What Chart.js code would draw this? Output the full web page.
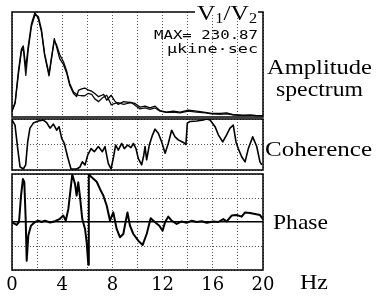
<!DOCTYPE html>
<html>
<head>
<meta charset="utf-8">
<script src="https://cdn.jsdelivr.net/npm/chart.js@4.4.0/dist/chart.umd.min.js"></script>
<style>
  html, body { margin: 0; padding: 0; background: #fff; }
  body { width: 381px; height: 296px; position: relative; overflow: hidden; }
  canvas { position: absolute; left: 0; }
</style>
</head>
<body>
<canvas id="amp" width="381" height="121" style="top:0px"></canvas>
<canvas id="coh" width="381" height="54" style="top:118px"></canvas>
<canvas id="pha" width="381" height="124" style="top:172px"></canvas>
<script>
// frequency axis labels (Hz)
const hzTicks = [0, 4, 8, 12, 16, 20];

// amplitude spectrum, two records (MAX = 230.87)
const ampHz = [0, 0.25, 0.5, 0.75, 0.9, 1.1, 1.3, 1.55, 1.83, 2.1,
  2.35, 2.6, 2.95, 3.15, 3.37, 3.55, 3.8, 4.1, 4.35, 4.6,
  4.9, 5.15, 5.3, 5.55, 5.8, 6.05, 6.35, 6.6, 6.9, 7.15,
  7.3, 7.55, 7.9, 8.2, 8.45, 8.9, 9.2, 9.5, 9.8, 10.2,
  10.6, 11.0, 11.4, 11.8, 12.3, 12.85, 13.4, 14.05, 14.7, 15.4,
  15.9, 16.6, 17.1, 17.6, 18.4, 19.0, 19.5, 20];
const ampV1 = [14, 33, 99, 150, 157, 110, 158, 206, 231, 217,
  188, 136, 91, 129, 173, 155, 129, 116, 98, 70,
  52, 45, 59, 62, 64, 60, 57, 52, 45, 48,
  50, 37, 48, 35, 28, 34, 33, 32, 30, 22,
  24, 20, 24, 14, 11, 13, 11, 15, 13, 10,
  8, 8, 9, 5, 4, 4, 3, 3];
const ampV2 = [12, 30, 92, 145, 152, 92, 150, 200, 226, 222,
  193, 140, 95, 133, 168, 160, 138, 122, 102, 74,
  55, 50, 48, 47, 47, 52, 50, 40, 34, 41,
  44, 48, 27, 30, 32, 28, 30, 32, 26, 18,
  20, 17, 20, 13, 10, 11, 9, 13, 11, 9,
  7, 6, 7, 5, 3, 4, 3, 3];

// coherence
const cohHz = [0, 0.24, 0.45, 0.64, 0.9, 1.09, 1.25, 1.43, 1.7, 2.1,
  2.5, 2.76, 3.03, 3.3, 3.56, 3.75, 3.96, 4.17, 4.43, 4.7,
  5.15, 5.42, 5.6, 5.82, 6.03, 6.3, 6.56, 6.88, 7.2, 7.41,
  7.67, 7.89, 8.07, 8.26, 8.47, 8.74, 8.95, 9.22, 9.48, 9.67,
  9.88, 10.06, 10.33, 10.5, 10.6, 10.73, 10.94, 11.2, 11.4, 11.66,
  11.93, 12.2, 12.45, 12.72, 12.99, 13.25, 13.65, 13.86, 13.97, 14.18,
  14.72, 15.24, 15.51, 15.78, 16.18, 16.44, 16.79, 17.1, 17.37, 17.63,
  17.85, 18.03, 18.3, 18.57, 18.83, 19.18, 19.5, 19.76, 19.9];
const cohVal = [0.98, 0.88, 0.43, 0.06, 0.02, 0.1, 0.55, 0.82, 0.92, 0.96,
  0.98, 0.93, 0.82, 0.9, 0.78, 0.85, 0.62, 0.52, 0.26, 0.02,
  0.02, 0.06, 0.16, 0.1, 0.29, 0.42, 0.36, 0.46, 0.36, 0.46,
  0.13, 0.02, 0.23, 0.49, 0.39, 0.52, 0.42, 0.49, 0.44, 0.52,
  0.42, 0.23, 0.1, 0.29, 0.46, 0.2, 0.49, 0.69, 0.8, 0.72,
  0.55, 0.33, 0.52, 0.78, 0.65, 0.59, 0.54, 0.5, 0.92, 0.95,
  0.96, 0.98, 1.0, 0.98, 0.85, 0.69, 0.55, 0.69, 0.82, 0.88,
  0.55, 0.42, 0.26, 0.16, 0.42, 0.65, 0.46, 0.16, 0.1];

// phase (degrees)
const phaseHz = [0, 0.37, 0.56, 0.72, 0.87, 0.98, 1.09, 1.17, 1.3, 1.51,
  1.83, 2.1, 2.37, 2.63, 3.03, 3.43, 3.82, 4.09, 4.28, 4.49,
  4.7, 4.8, 5.02, 5.15, 5.28, 5.42, 5.6, 5.82, 5.95, 6.08,
  6.12, 6.35, 6.75, 7.01, 7.28, 7.55, 7.81, 8.07, 8.34, 8.6,
  8.87, 9.05, 9.2, 9.4, 9.67, 10.06, 10.41, 10.73, 11.05, 11.4,
  11.74, 12.0, 12.2, 12.45, 12.72, 13.12, 13.52, 13.92, 14.32, 14.72,
  15.12, 15.51, 16.04, 16.44, 16.84, 17.11, 17.5, 17.9, 18.3, 18.57,
  18.96, 19.36, 19.76, 20];
const phaseDeg = [-1, -11, 0, 99, 161, 150, 11, -145, -51, -14,
  0, 5, 0, 5, -2, 3, 12, 24, 5, 49,
  136, 178, 143, 99, 149, 93, 11, -26, -76, -160,
  178, 168, 151, 124, 99, 61, 5, 36, -26, -57,
  -45, 0, 36, -14, -45, -70, -86, -45, 14, -1,
  -14, -33, 0, 20, 5, -7, 2, -3, 5, 0,
  3, -3, 2, 0, 11, 2, 24, 26, 20, 36,
  34, 30, 26, 11];

function pts(xs, ys) {
  return xs.map((x, i) => ({ x: x, y: ys[i] }));
}

function fitText(ctx, text, x, y, font, width) {
  ctx.save();
  ctx.font = font;
  ctx.fillStyle = '#000';
  ctx.textAlign = 'left';
  ctx.textBaseline = 'alphabetic';
  const s = width / ctx.measureText(text).width;
  ctx.translate(x, y);
  ctx.scale(s, 1);
  ctx.fillText(text, 0, 0);
  ctx.restore();
}

// frame round the plot area + the texts outside it (page coordinates)
function decor(pageTop, notes, extra) {
  return {
    id: 'decor',
    afterDraw(chart) {
      const ctx = chart.ctx;
      const a = chart.chartArea;
      ctx.save();
      ctx.strokeStyle = '#000';
      ctx.lineWidth = 1.5;
      ctx.strokeRect(a.left, a.top, a.right - a.left, a.bottom - a.top);
      ctx.restore();
      ctx.save();
      ctx.translate(0, -pageTop);
      if (extra) extra(ctx);
      notes.forEach(n => fitText(ctx, n.t, n.x, n.y, n.font, n.w));
      ctx.restore();
    }
  };
}

function ratioLabel(ctx) {
  // white gap in the top border, then V1/V2
  ctx.fillStyle = '#fff';
  ctx.fillRect(195, 5, 63, 10);
  ctx.save();
  ctx.fillStyle = '#000';
  const big = "22px 'Liberation Serif'";
  const small = "14px 'Liberation Serif'";
  const parts = [['V', big, 0], ['1', small, 3], ['/', big, 0], ['V', big, 0], ['2', small, 3]];
  let total = 0;
  parts.forEach(p => { ctx.font = p[1]; total += ctx.measureText(p[0]).width; });
  ctx.translate(197, 20);
  ctx.scale(60 / total, 1);
  let x = 0;
  parts.forEach(p => {
    ctx.font = p[1];
    ctx.fillText(p[0], x, p[2]);
    x += ctx.measureText(p[0]).width;
  });
  ctx.restore();
}

const serif = "21px 'Liberation Serif'";
const mono = "13px 'DejaVu Sans Mono'";

function xScale(showLabels) {
  return {
    type: 'linear', min: 0, max: 20,
    border: { display: false, dash: [1, 2] },
    grid: { color: '#555', lineWidth: 1, drawTicks: false },
    ticks: {
      stepSize: 2, autoSkip: false, maxRotation: 0,
      display: showLabels, padding: 6, color: '#000',
      font: { family: 'DejaVu Serif', size: 18, lineHeight: 1 },
      callback: v => hzTicks.includes(v) ? String(v) : ''
    },
    // keep the label band the same height as in the figure
    afterFit: s => { if (showLabels) s.height = 26; }
  };
}

function panel(id, pageTop, padding, datasets, yScale, showLabels, notes, extra) {
  return new Chart(document.getElementById(id), {
    type: 'line',
    data: { datasets: datasets },
    options: {
      responsive: false,
      animation: false,
      devicePixelRatio: 1,
      layout: { padding: padding },
      plugins: { legend: { display: false }, tooltip: { enabled: false } },
      elements: { point: { radius: 0 }, line: { tension: 0, borderJoinStyle: 'round' } },
      scales: { x: xScale(showLabels), y: yScale }
    },
    plugins: [decor(pageTop, notes, extra)]
  });
}

function load() {
  panel('amp', 0, { top: 12, bottom: 4, left: 12, right: 118 }, [
    { data: pts(ampHz, ampV1), borderColor: '#000', borderWidth: 1.3 },
    { data: pts(ampHz, ampV2), borderColor: '#111', borderWidth: 1.3 }
  ], {
    min: 0, max: 232,
    ticks: { display: false },
    grid: { display: false, drawTicks: false },
    border: { display: false }
  }, false, [
    { t: 'MAX= 230.87', x: 154, y: 39, w: 104, font: mono },
    { t: 'μkine·sec', x: 167, y: 53, w: 91, font: mono },
    { t: 'Amplitude', x: 267, y: 74, w: 105, font: serif },
    { t: 'spectrum', x: 276, y: 96, w: 87, font: serif }
  ], ratioLabel);

  panel('coh', 118, { top: 1, bottom: 2, left: 12, right: 118 }, [
    { data: pts(cohHz, cohVal), borderColor: '#000', borderWidth: 1.6 }
  ], {
    min: 0, max: 1,
    ticks: { display: false, stepSize: 0.5 },
    grid: { color: '#555', drawTicks: false },
    border: { display: false, dash: [1, 2] }
  }, false, [
    { t: 'Coherence', x: 265, y: 156, w: 107, font: serif }
  ]);

  const isZero = c => c.tick && c.tick.value === 0;
  panel('pha', 172, { top: 2, bottom: 0, left: 12, right: 118 }, [
    { data: pts(phaseHz, phaseDeg), borderColor: '#000', borderWidth: 2 }
  ], {
    min: -180, max: 180,
    ticks: { display: false, stepSize: 90 },
    grid: {
      color: c => isZero(c) ? '#000' : '#555',
      lineWidth: c => isZero(c) ? 1.5 : 1,
      drawTicks: false
    },
    border: { display: false, dash: c => isZero(c) ? [] : [1, 2] }
  }, true, [
    { t: 'Phase', x: 273, y: 229, w: 55, font: serif },
    { t: 'Hz', x: 300, y: 289, w: 28, font: serif }
  ]);
}

window.addEventListener('load', load);
</script>
</body>
</html>
